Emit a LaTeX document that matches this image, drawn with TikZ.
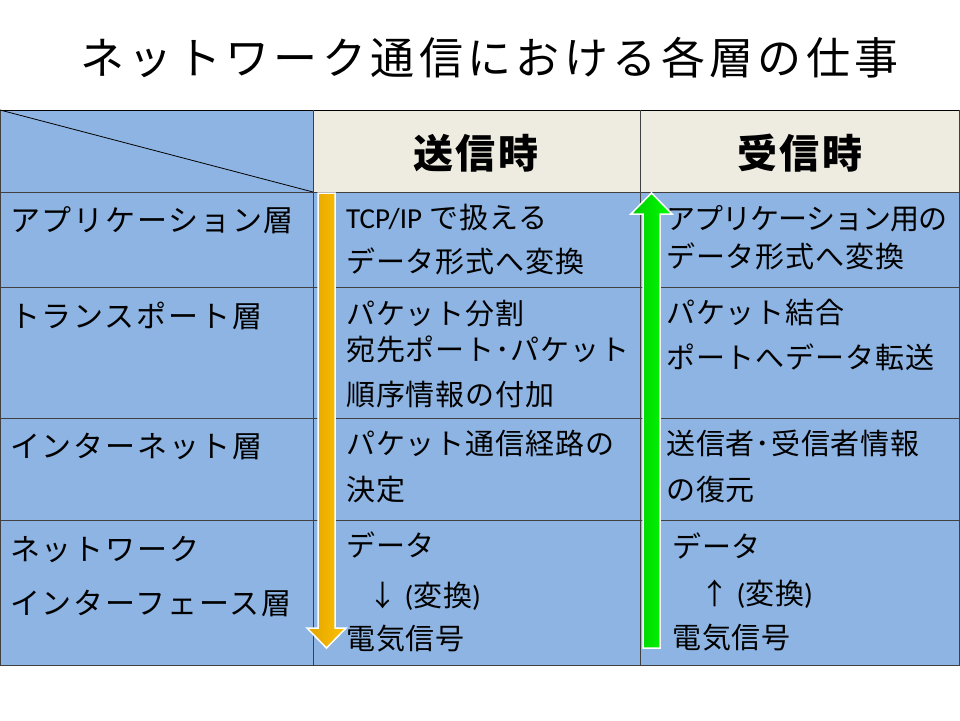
\documentclass[tikz,border=0pt]{standalone}
\usepackage{fontspec}
\setmainfont{Noto Sans CJK JP}
\newfontfamily\latin{Carlito}
\definecolor{cellblue}{HTML}{8DB4E2}
\definecolor{headgray}{HTML}{EEECE1}
\definecolor{sendhi}{HTML}{FFC000}
\definecolor{sendlo}{HTML}{E0A500}
\definecolor{recvhi}{HTML}{00FF00}
\definecolor{recvlo}{HTML}{00CC00}
\tikzset{
  rowtxt/.style={anchor=west, inner sep=0pt, text height=25.5pt, text depth=3.5pt,
    font=\fontsize{29}{33}\selectfont\addfontfeatures{LetterSpace=3}},
  tighttxt/.style={rowtxt, font=\fontsize{29}{33}\selectfont\addfontfeatures{LetterSpace=-3}},
  laytxt/.style={rowtxt, text height=26.4pt, text depth=3.6pt,
    font=\fontsize{30}{34}\selectfont\addfontfeatures{LetterSpace=6}},
  headtxt/.style={anchor=west, inner sep=0pt, text height=35.2pt, text depth=4.8pt,
    font=\fontsize{40}{44}\selectfont\bfseries\addfontfeatures{LetterSpace=6}},
  titletxt/.style={anchor=west, inner sep=0pt, text height=38.7pt, text depth=5.3pt,
    font=\fontsize{44}{48}\selectfont\addfontfeatures{LetterSpace=10}},
  rule/.style={draw=black!75, line width=0.8pt},
  sendarrow/.style={draw=white, line width=1.5pt, left color=sendlo, right color=sendhi},
  recvarrow/.style={draw=white, line width=1.5pt, left color=recvlo, right color=recvhi}
}
\begin{document}
\begin{tikzpicture}[x=1pt,y=-1pt]
  \useasboundingbox (0,0) rectangle (960,720);
  \fill[cellblue] (0,110) rectangle (960,665);
  \fill[headgray] (313,110) rectangle (960,192);
  \begin{scope}[rule]
    \draw[black] (0,110) -- (960,110);
    \draw (0,110) -- (0,665);
    \draw (313,110) -- (313,665);
    \draw (640,110) -- (640,665);
    \draw (959,110) -- (959,665);
    \draw (0,192) -- (960,192);
    \draw (0,287) -- (960,287);
    \draw (0,418) -- (960,418);
    \draw (0,520) -- (960,520);
    \draw (0,665) -- (960,665);
    \draw[black] (0,110) -- (313,192);
  \end{scope}
  % arrows
  \draw[sendarrow] (318,193) -- (335,193) -- (335,628) -- (346,628)
    -- (326.5,648) -- (307,628) -- (318,628) -- cycle;
  \draw[recvarrow] (651.5,193) -- (672,214) -- (660,214) -- (660,648)
    -- (643,648) -- (643,214) -- (631,214) -- cycle;
  \path (80,58) node[titletxt] (title) {ネットワーク通信における各層の仕事};
  \path[headtxt]
    (413,153) node (send) {送信時}
    (737,153) node (recv) {受信時};
  \path[laytxt]
    (10,220) node (app) {アプリケーション層}
    (10,316) node (trans) {トランスポート層}
    (10,446) node (inet) {インターネット層}
    (10,549) node (nwa) {ネットワーク}
    (10,603) node (nwb) {インターフェース層};
  \path[rowtxt]
    (346,217) node (s1a) {{\latin TCP/IP} で扱える}
    (346,261) node (s1b) {データ形式へ変換}
    (346,313) node (s2a) {パケット分割}
    (346,349) node (s2b) {宛先ポート･パケット}
    (346,394) node (s2c) {順序情報の付加}
    (346,443) node (s3a) {パケット通信経路の}
    (346,489) node (s3b) {決定}
    (346,545) node (s4a) {データ}
    (368,595) node (s4b) {↓ {\latin(}変換{\latin)}}
    (346,638) node (s4c) {電気信号};
  \path[rowtxt]
    (666,218) node[tighttxt] (r1a) {アプリケーション用の}
    (666,256) node (r1b) {データ形式へ変換}
    (666,312) node (r2a) {パケット結合}
    (666,357) node (r2b) {ポートへデータ転送}
    (666,443) node (r3a) {送信者･受信者情報}
    (666,489) node (r3b) {の復元}
    (672,546) node (r4a) {データ}
    (700,593) node (r4b) {↑ {\latin(}変換{\latin)}}
    (672,637) node (r4c) {電気信号};
\end{tikzpicture}
\end{document}
